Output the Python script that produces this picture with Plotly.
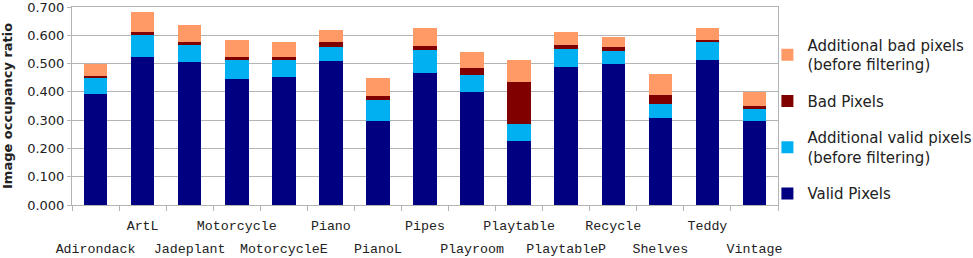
import plotly.graph_objects as go

categories = ["Adirondack", "ArtL", "Jadeplant", "Motorcycle", "MotorcycleE", "Piano",
              "PianoL", "Pipes", "Playroom", "Playtable", "PlaytableP", "Recycle",
              "Shelves", "Teddy", "Vintage"]
valid_pixels = [0.392, 0.524, 0.505, 0.446, 0.451, 0.510, 0.297, 0.466, 0.401, 0.228,
                0.489, 0.498, 0.307, 0.513, 0.297]
additional_valid = [0.059, 0.079, 0.064, 0.067, 0.062, 0.048, 0.075, 0.083, 0.059, 0.058,
                    0.062, 0.048, 0.051, 0.065, 0.042]
bad_pixels = [0.006, 0.007, 0.006, 0.012, 0.012, 0.018, 0.014, 0.013, 0.023, 0.148,
              0.016, 0.012, 0.032, 0.006, 0.012]
additional_bad = [0.041, 0.071, 0.063, 0.058, 0.053, 0.041, 0.063, 0.065, 0.058, 0.079,
                  0.043, 0.036, 0.074, 0.042, 0.050]
y_ticks = [0.0, 0.1, 0.2, 0.3, 0.4, 0.5, 0.6, 0.7]

series = [
    ("Valid Pixels", valid_pixels, "#000080"),
    ("Additional valid pixels<br>(before filtering)", additional_valid, "#00B0F0"),
    ("Bad Pixels", bad_pixels, "#800000"),
    ("Additional bad pixels<br>(before filtering)", additional_bad, "#FF9966"),
]

fig = go.Figure()
for i, (name, vals, col) in enumerate(series):
    fig.add_trace(go.Bar(x=categories, y=vals, name=name, marker_color=col,
                         marker_line_width=0, legendgroup=f"g{i}",
                         legendrank=len(series) - i))

n = len(categories)
upper_idx = list(range(1, n, 2))
lower_idx = list(range(0, n, 2))
fig.add_trace(go.Scatter(x=[], y=[], xaxis="x2", showlegend=False))
fig.add_trace(go.Scatter(x=[], y=[], xaxis="x3", showlegend=False))

grid = "#b3b3b3"
tickfont_x = dict(family="Liberation Mono", size=13.3, color="#222222")
fig.update_layout(
    width=973, height=258,
    margin=dict(l=72, r=195, t=7, b=53, autoexpand=False),
    paper_bgcolor="white", plot_bgcolor="white",
    barmode="stack", bargap=0.5,
    font=dict(family="DejaVu Sans", color="#222222"),
    xaxis=dict(type="category", tickson="boundaries", ticks="outside", ticklen=5,
               tickcolor=grid, showticklabels=False, showline=True, linecolor=grid,
               mirror=True, showgrid=False),
    xaxis2=dict(overlaying="x", anchor="y", range=[-0.5, n - 0.5], tickmode="array",
                tickvals=upper_idx, ticktext=[categories[i] for i in upper_idx],
                ticks="", showline=False, showgrid=False, zeroline=False,
                tickfont=tickfont_x, ticklabelstandoff=11),
    xaxis3=dict(overlaying="x", anchor="y", range=[-0.5, n - 0.5], tickmode="array",
                tickvals=lower_idx, ticktext=[categories[i] for i in lower_idx],
                ticks="", showline=False, showgrid=False, zeroline=False,
                tickfont=tickfont_x, ticklabelstandoff=34),
    yaxis=dict(range=[0, 0.7], tickmode="array", tickvals=y_ticks,
               ticktext=[f"{v:.3f}" for v in y_ticks], ticklabeloverflow="allow",
               ticks="outside", ticklen=4,
               tickcolor=grid, showline=True, linecolor=grid, mirror=True,
               gridcolor=grid, zeroline=False,
               tickfont=dict(family="DejaVu Sans", size=13, color="#222222")),
    legend=dict(x=0.985, y=0.89, xanchor="left", yanchor="top",
                traceorder="grouped",
                tracegroupgap=14, itemwidth=30, bgcolor="rgba(0,0,0,0)",
                font=dict(family="DejaVu Sans", size=15, color="#222222")),
    annotations=[dict(text="Image occupancy ratio", textangle=-90, xref="paper",
                      yref="paper", x=0, y=0.5, xanchor="center", yanchor="middle",
                      xshift=-65, showarrow=False,
                      font=dict(family="DejaVu Sans", size=13, weight="bold",
                                color="#222222"))],
)

fig.write_html("out.html")
